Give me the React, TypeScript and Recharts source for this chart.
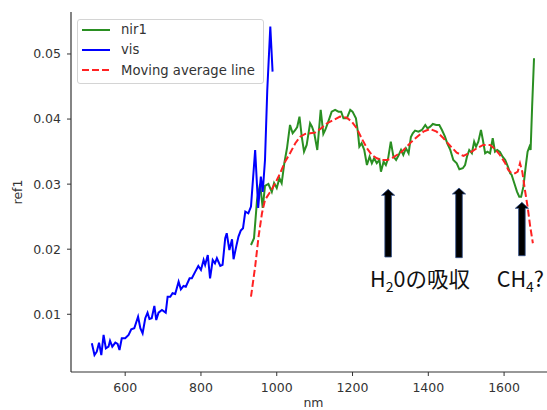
import { LineChart, Line, XAxis, YAxis, ReferenceLine, ReferenceDot } from 'recharts';

// visible band
const visNm = [
  512, 519, 525, 531, 537, 543, 549, 556, 560, 566, 574, 580, 585, 591, 600, 609, 616, 624, 634, 640,
  646, 653, 659, 664, 670, 677, 682, 688, 697, 707, 712, 719, 725, 732, 741, 747, 754, 760, 770, 776,
  785, 793, 800, 807, 811, 818, 824, 831, 837, 842, 851, 857, 864, 868, 875, 882, 886, 893, 899, 905,
  911, 917, 925, 932, 943, 951, 958, 963, 969, 975, 983, 989,
];
const visRef = [
  0.00554, 0.00374, 0.00425, 0.00564, 0.00374, 0.00682, 0.00477, 0.00502, 0.00594, 0.00502,
  0.00564, 0.00544, 0.00451, 0.00631, 0.00631, 0.00682, 0.00769, 0.00785, 0.00963, 0.00785,
  0.00708, 0.00939, 0.01025, 0.00928, 0.00939, 0.01128, 0.00912, 0.01025, 0.01066, 0.01025,
  0.0127, 0.0127, 0.01323, 0.01312, 0.01501, 0.01384, 0.01435, 0.01424, 0.01553, 0.01553,
  0.01655, 0.01742, 0.01681, 0.01834, 0.01758, 0.01911, 0.01553, 0.01834, 0.01784, 0.01861,
  0.01742, 0.01758, 0.02168, 0.02245, 0.01988, 0.02153, 0.01845, 0.02039, 0.02193, 0.02285,
  0.02322, 0.02577, 0.02552, 0.02654, 0.03525, 0.02634, 0.03115, 0.0288, 0.03371, 0.04447,
  0.0542, 0.04728,
];

// near infrared band
const nirNm = [
  932, 940, 948, 956, 963, 969, 978, 987, 993, 1000, 1007, 1013, 1020, 1027, 1035, 1042, 1049, 1054, 1060, 1066,
  1072, 1079, 1088, 1093, 1099, 1107, 1116, 1123, 1128, 1136, 1145, 1154, 1163, 1170, 1176, 1185, 1194, 1200, 1209, 1214,
  1218, 1224, 1231, 1238, 1245, 1251, 1257, 1264, 1271, 1275, 1282, 1288, 1294, 1301, 1308, 1315, 1322, 1328, 1334, 1341,
  1348, 1354, 1359, 1365, 1374, 1383, 1392, 1398, 1405, 1412, 1421, 1429, 1436, 1444, 1450, 1458, 1466, 1475, 1482, 1491,
  1497, 1502, 1508, 1515, 1521, 1526, 1532, 1539, 1544, 1550, 1556, 1563, 1570, 1576, 1582, 1589, 1596, 1603, 1610, 1616,
  1620, 1627, 1634, 1640, 1645, 1651, 1657, 1662, 1667, 1670, 1674, 1679,
];
const nirRef = [
  0.02065, 0.02168, 0.02757, 0.03002, 0.02634, 0.02972, 0.03002, 0.0288, 0.03018, 0.02941,
  0.0309, 0.03013, 0.03321, 0.03551, 0.03909, 0.03782, 0.03832, 0.03878, 0.04037, 0.03729,
  0.03499, 0.03602, 0.03935, 0.03883, 0.03782, 0.03525, 0.0414, 0.03771, 0.03832, 0.0396,
  0.04114, 0.0414, 0.04114, 0.04114, 0.04012, 0.04012, 0.0414, 0.04114, 0.04012, 0.03806,
  0.03576, 0.03628, 0.03525, 0.03294, 0.03422, 0.03321, 0.03397, 0.03321, 0.03371, 0.03191,
  0.03345, 0.03294, 0.03397, 0.03653, 0.03422, 0.03371, 0.03448, 0.03525, 0.03448, 0.03551,
  0.03474, 0.03725, 0.03782, 0.03822, 0.03806, 0.03832, 0.03909, 0.03858, 0.03883, 0.03925,
  0.03909, 0.03909, 0.03832, 0.03729, 0.03628, 0.03525, 0.03371, 0.03321, 0.03228, 0.03244,
  0.03294, 0.03422, 0.03525, 0.03474, 0.03653, 0.03576, 0.03653, 0.03832, 0.03679, 0.03474,
  0.03499, 0.03474, 0.03705, 0.03499, 0.03525, 0.03494, 0.03422, 0.03371, 0.03268, 0.03167,
  0.03141, 0.03013, 0.02884, 0.02807, 0.02807, 0.02961, 0.03268, 0.03499, 0.03576, 0.03525,
  0.0419, 0.04934,
];

// moving average of nir1
const avgNm = [
  932, 943, 952, 961, 969, 983, 996, 1009, 1022, 1035, 1049, 1062, 1075, 1088, 1101, 1115, 1132, 1150, 1167, 1185,
  1198, 1211, 1224, 1238, 1251, 1264, 1277, 1291, 1304, 1317, 1330, 1343, 1356, 1370, 1387, 1405, 1422, 1440, 1458, 1475,
  1493, 1510, 1528, 1545, 1563, 1576, 1589, 1603, 1611, 1620, 1629, 1636, 1642, 1648, 1655, 1662, 1669, 1676,
];
const avgRef = [
  0.0127, 0.01732, 0.02193, 0.02552, 0.02757, 0.02884, 0.03013, 0.03167, 0.03345, 0.03474,
  0.03628, 0.03729, 0.03771, 0.03782, 0.03791, 0.03848, 0.03932, 0.03986, 0.04037, 0.04021,
  0.0396, 0.03858, 0.03705, 0.03551, 0.03448, 0.03397, 0.03371, 0.03371, 0.03397, 0.03448,
  0.03499, 0.03576, 0.03653, 0.03725, 0.03806, 0.03848, 0.03806, 0.03705, 0.03586, 0.03483,
  0.03433, 0.03483, 0.03551, 0.03602, 0.03602, 0.0354, 0.03448, 0.03321, 0.03218, 0.03167,
  0.03167, 0.03191, 0.03321, 0.03191, 0.0291, 0.02654, 0.02346, 0.02091,
];

const xTicks = [600, 800, 1000, 1200, 1400, 1600];
const yTicks = [0.01, 0.02, 0.03, 0.04, 0.05];

// absorption arrows (nm, bottom, top)
const arrowNm = [1294, 1481, 1647];
const arrowFrom = [0.0188, 0.0187, 0.019];
const arrowTo = [0.0292, 0.0294, 0.0272];

const visData = visNm.map((nm, i) => ({ nm, ref1: visRef[i] }));
const nirData = nirNm.map((nm, i) => ({ nm, ref1: nirRef[i] }));
const avgData = avgNm.map((nm, i) => ({ nm, ref1: avgRef[i] }));

const legendItems = [
  { label: 'nir1', color: '#2a8f22', dash: undefined },
  { label: 'vis', color: '#0000ff', dash: undefined },
  { label: 'Moving average line', color: '#f22', dash: '7 3' },
];

const tickStyle = { fontSize: 12.5, fill: '#333', fontFamily: 'DejaVu Sans' };

function Arrow(props: any) {
  const { x1, y1, y2 } = props;
  const top = Math.min(y1, y2);
  const bottom = Math.max(y1, y2);
  const sw = 3.3, hw = 6.6, hh = 6;
  const d = `M${x1 - sw},${bottom} L${x1 - sw},${top + hh} L${x1 - hw},${top + hh} L${x1},${top} L${x1 + hw},${top + hh} L${x1 + sw},${top + hh} L${x1 + sw},${bottom} Z`;
  return <path d={d} fill="#000" stroke="#34508c" strokeWidth={0.8} />;
}

const noteFont = "'Noto Sans CJK JP', sans-serif";

export default function App() {
  return (
    <div style={{ position: 'absolute', left: 0, top: 0, width: 547, height: 410, overflow: 'hidden', background: '#fff' }}>
      <LineChart width={560} height={410} margin={{ top: 12, right: 4, bottom: 8, left: 11 }} style={{ fontFamily: 'DejaVu Sans' }}>
        <XAxis
          xAxisId="top"
          orientation="top"
          type="number"
          domain={[457, 1737]}
          height={0}
          tick={false}
          tickLine={false}
          axisLine={{ stroke: '#333', strokeWidth: 1.2 }}
        />
        <XAxis
          dataKey="nm"
          type="number"
          domain={[457, 1737]}
          allowDataOverflow
          ticks={xTicks}
          height={30}
          tick={tickStyle}
          tickSize={4}
          tickMargin={7}
          axisLine={{ stroke: '#333', strokeWidth: 1.2 }}
          tickLine={{ stroke: '#333' }}
          label={{ value: 'nm', position: 'bottom', offset: -4, style: { fontSize: 12.5, fill: '#333' } }}
        />
        <YAxis
          type="number"
          domain={[0.00113, 0.05645]}
          allowDataOverflow
          ticks={yTicks}
          width={60}
          tick={tickStyle}
          tickSize={4}
          tickMargin={6}
          tickFormatter={(v: number) => v.toFixed(2)}
          axisLine={{ stroke: '#333', strokeWidth: 1.2 }}
          tickLine={{ stroke: '#333' }}
          label={{
            content: ({ viewBox }: any) => (
              <text
                x={viewBox.x + 6}
                y={viewBox.y + viewBox.height / 2}
                transform={`rotate(-90 ${viewBox.x + 6} ${viewBox.y + viewBox.height / 2})`}
                textAnchor="middle"
                dominantBaseline="central"
                fontSize={12.5}
                fill="#333"
              >
                ref1
              </text>
            ),
          }}
        />
        <Line data={nirData} dataKey="ref1" name="nir1" stroke="#2a8f22" strokeWidth={2} dot={false} isAnimationActive={false} />
        <Line data={visData} dataKey="ref1" name="vis" stroke="#0000ff" strokeWidth={2} dot={false} isAnimationActive={false} />
        <Line
          data={avgData}
          dataKey="ref1"
          name="Moving average line"
          stroke="#f22"
          strokeWidth={2}
          strokeDasharray="7 3"
          dot={false}
          isAnimationActive={false}
        />
        {arrowNm.map((nm, i) => (
          <ReferenceLine
            key={nm}
            segment={[{ x: nm, y: arrowFrom[i] }, { x: nm, y: arrowTo[i] }]}
            shape={Arrow}
          />
        ))}
        <ReferenceDot
          x={1378}
          y={0.0142}
          r={0}
          shape={(p: any) => (
            <text x={p.cx} y={p.cy} textAnchor="middle" fontSize={21.5} fontFamily={noteFont} fill="#111">
              H<tspan fontSize={14} dy={5}>2</tspan>
              <tspan dy={-5}>0の吸収</tspan>
            </text>
          )}
        />
        <ReferenceDot
          x={1643}
          y={0.0142}
          r={0}
          shape={(p: any) => (
            <text x={p.cx} y={p.cy} textAnchor="middle" fontSize={21.5} fontFamily={noteFont} fill="#111">
              CH<tspan fontSize={14} dy={5}>4</tspan>
              <tspan dy={-5}>?</tspan>
            </text>
          )}
        />
      </LineChart>
      <div
        style={{
          position: 'absolute',
          left: 77,
          top: 19,
          width: 187,
          height: 65,
          border: '1px solid #d4d4d4',
          borderRadius: 3,
          background: 'rgba(255,255,255,0.8)',
          boxSizing: 'border-box',
          fontFamily: 'DejaVu Sans',
        }}
      >
        {legendItems.map((it, i) => (
          <div
            key={it.label}
            style={{ position: 'absolute', left: 4, top: -0.5 + i * 20.3, height: 20, display: 'flex', alignItems: 'center' }}
          >
            <svg width={28} height={4} style={{ display: 'block' }}>
              <line x1={0} y1={2} x2={28} y2={2} stroke={it.color} strokeWidth={2} strokeDasharray={it.dash} />
            </svg>
            <span style={{ marginLeft: 11, fontSize: 13.2, color: '#333', whiteSpace: 'nowrap' }}>{it.label}</span>
          </div>
        ))}
      </div>
    </div>
  );
}
